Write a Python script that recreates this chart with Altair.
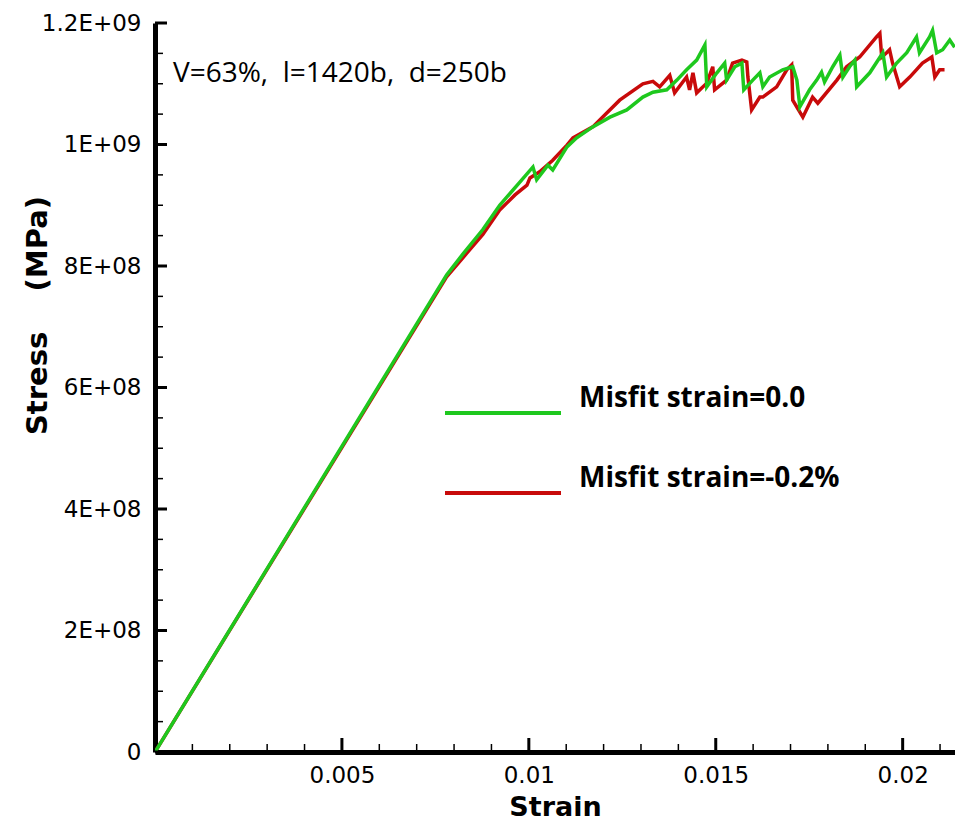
import json
import altair as alt
import pandas as pd

# ---------------- data ----------------
series_names = ["Misfit strain=0.0", "Misfit strain=-0.2%"]
series_colors = ["#1ec81e", "#c80a0a"]

green_strain = [0.0, 0.0078, 0.00824, 0.00877, 0.00922, 0.00976, 0.01011, 0.01021, 0.01051,
                0.01064, 0.01102, 0.01128, 0.01171, 0.01217, 0.01262, 0.01305, 0.01332, 0.01369, 0.01396,
                0.01422, 0.01449, 0.01471, 0.01476, 0.01503, 0.01524, 0.01529, 0.01551, 0.01570, 0.01575,
                0.01599, 0.01618, 0.01626, 0.01644, 0.01679, 0.01706, 0.01717, 0.01725, 0.01751, 0.01770,
                0.01783, 0.01791, 0.01813, 0.01832, 0.01840, 0.01858, 0.01872, 0.01877, 0.01912, 0.01947,
                0.01957, 0.01984, 0.02011, 0.02037, 0.02045, 0.02072, 0.02080, 0.02091, 0.02107, 0.02126,
                0.02139]
green_stress = [0.0, 7.85e8, 8.20e8, 8.60e8, 9.00e8, 9.38e8, 9.63e8, 9.42e8, 9.66e8,
                9.58e8, 9.96e8, 1.011e9, 1.029e9, 1.045e9, 1.057e9, 1.078e9, 1.086e9, 1.090e9, 1.106e9,
                1.123e9, 1.139e9, 1.164e9, 1.095e9, 1.118e9, 1.134e9, 1.106e9, 1.128e9, 1.134e9, 1.090e9,
                1.106e9, 1.118e9, 1.095e9, 1.111e9, 1.123e9, 1.128e9, 1.106e9, 1.062e9, 1.090e9, 1.106e9,
                1.119e9, 1.103e9, 1.128e9, 1.147e9, 1.111e9, 1.128e9, 1.139e9, 1.095e9, 1.118e9, 1.151e9,
                1.111e9, 1.134e9, 1.151e9, 1.177e9, 1.151e9, 1.177e9, 1.188e9, 1.151e9, 1.156e9, 1.172e9,
                1.160e9]

red_strain = [0.0, 0.0078, 0.00824, 0.00877, 0.00922, 0.00963, 0.00995, 0.01003, 0.01029,
              0.01064, 0.01102, 0.01118, 0.01171, 0.01243, 0.01305, 0.01332, 0.01350, 0.01377, 0.01390,
              0.01422, 0.01430, 0.01439, 0.01449, 0.01476, 0.01492, 0.01497, 0.01529, 0.01545, 0.01570,
              0.01583, 0.01586, 0.01596, 0.01618, 0.01626, 0.01663, 0.01690, 0.01703, 0.01706, 0.01733,
              0.01759, 0.01773, 0.01824, 0.01850, 0.01885, 0.01930, 0.01939, 0.01944, 0.01957, 0.01965,
              0.01973, 0.01992, 0.02019, 0.02053, 0.02078, 0.02086, 0.02099, 0.02112]
red_stress = [0.0, 7.82e8, 8.14e8, 8.52e8, 8.92e8, 9.17e8, 9.33e8, 9.45e8, 9.55e8,
              9.74e8, 9.99e8, 1.011e9, 1.029e9, 1.073e9, 1.100e9, 1.104e9, 1.095e9, 1.114e9, 1.085e9,
              1.111e9, 1.090e9, 1.118e9, 1.085e9, 1.101e9, 1.128e9, 1.090e9, 1.106e9, 1.134e9, 1.139e9,
              1.136e9, 1.111e9, 1.057e9, 1.078e9, 1.078e9, 1.095e9, 1.123e9, 1.131e9, 1.073e9, 1.045e9,
              1.078e9, 1.068e9, 1.106e9, 1.128e9, 1.144e9, 1.177e9, 1.183e9, 1.144e9, 1.151e9, 1.156e9,
              1.134e9, 1.095e9, 1.111e9, 1.134e9, 1.144e9, 1.111e9, 1.123e9, 1.123e9]

x_major = [0.005, 0.01, 0.015, 0.02]
x_major_labels = ["0.005", "0.01", "0.015", "0.02"]
x_minor = [0.001, 0.002, 0.003, 0.004, 0.006, 0.007, 0.008, 0.009, 0.011, 0.012, 0.013, 0.014,
           0.016, 0.017, 0.018, 0.019, 0.021]
y_major = [0, 2e8, 4e8, 6e8, 8e8, 1e9, 1.2e9]
y_major_labels = ["0", "2E+08", "4E+08", "6E+08", "8E+08", "1E+09", "1.2E+09"]
y_minor = [5e7, 1e8, 1.5e8, 2.5e8, 3e8, 3.5e8, 4.5e8, 5e8, 5.5e8, 6.5e8, 7e8, 7.5e8,
           8.5e8, 9e8, 9.5e8, 1.05e9, 1.1e9, 1.15e9]
x_domain = [0, 0.0214]
y_domain = [0, 1.2e9]
annotation = "V=63%,\u00a0 l=1420b,\u00a0 d=250b"
x_title = "Strain"
y_title = "Stress\u00a0\u00a0\u00a0\u00a0(MPa)"

# ---------------- build ----------------
W, H = 800, 729

rows = []
for i, (s, v) in enumerate(zip(red_strain, red_stress)):
    rows.append({"strain": s, "stress": v, "series": series_names[1], "order": i})
for i, (s, v) in enumerate(zip(green_strain, green_stress)):
    rows.append({"strain": s, "stress": v, "series": series_names[0], "order": i})
df = pd.DataFrame(rows)

xscale = alt.Scale(domain=x_domain, nice=False, zero=False)
yscale = alt.Scale(domain=y_domain, nice=False)

x_label_expr = "datum.value < 0.004 ? '' : " + json.dumps(x_major_labels) + "[round(datum.value/0.005) - 1]"
y_label_expr = json.dumps(y_major_labels) + "[round(datum.value/200000000)]"

lines = alt.Chart(df).mark_line(strokeWidth=3.5, clip=True).encode(
    x=alt.X("strain:Q", scale=xscale, title=x_title,
            axis=alt.Axis(values=[0] + x_major, labelExpr=x_label_expr, ticks=False, grid=False,
                          domainColor="black", domainWidth=5, labelFont="DejaVu Sans",
                          labelFontSize=23, labelColor="black", labelBaseline="alphabetic",
                          labelPadding=30, labelFlush=False,
                          titleFont="DejaVu Sans", titleFontSize=27, titleFontWeight="bold",
                          titleColor="black", titleBaseline="alphabetic", titleY=63,
                          titlePadding=0)),
    y=alt.Y("stress:Q", scale=yscale, title=y_title,
            axis=alt.Axis(values=y_major, labelExpr=y_label_expr, ticks=False, grid=False,
                          domainColor="black", domainWidth=5, labelFont="DejaVu Sans",
                          labelFontSize=23, labelColor="black", labelPadding=14,
                          labelBaseline="middle", labelFlush=False,
                          titleFont="DejaVu Sans", titleFontSize=29, titleFontWeight="bold",
                          titleColor="black", titleAngle=270, titleAlign="center",
                          titleBaseline="alphabetic", titleX=-109, titleY=292)),
    color=alt.Color("series:N", scale=alt.Scale(domain=series_names, range=series_colors),
                    legend=alt.Legend(orient="none", legendX=288, legendY=370, title=None,
                                      symbolType="stroke", symbolSize=116 * 116,
                                      symbolStrokeWidth=4, labelFont="Open Sans",
                                      labelFontWeight="bold", labelFontSize=28,
                                      labelColor="black", labelOffset=16,
                                      labelBaseline="bottom", clipHeight=40, rowPadding=32,
                                      padding=0, labelLimit=600)),
    order=alt.Order("order:Q"),
)

xmaj = alt.Chart(pd.DataFrame({"strain": x_major})).mark_rule(color="black", strokeWidth=3).encode(
    x=alt.X("strain:Q", scale=xscale), y=alt.value(H), y2=alt.value(H - 14))
xmin = alt.Chart(pd.DataFrame({"strain": x_minor})).mark_rule(color="black", strokeWidth=1.5).encode(
    x=alt.X("strain:Q", scale=xscale), y=alt.value(H), y2=alt.value(H - 8))
ymaj = alt.Chart(pd.DataFrame({"stress": y_major})).mark_rule(color="black", strokeWidth=3).encode(
    y=alt.Y("stress:Q", scale=yscale), x=alt.value(0), x2=alt.value(12))
ymin = alt.Chart(pd.DataFrame({"stress": y_minor})).mark_rule(color="black", strokeWidth=1.5).encode(
    y=alt.Y("stress:Q", scale=yscale), x=alt.value(0), x2=alt.value(8))

note = alt.Chart(pd.DataFrame({"t": [annotation]})).mark_text(
    align="left", baseline="alphabetic", font="Open Sans", fontSize=28, color="black"
).encode(text="t:N", x=alt.value(18), y=alt.value(59))

chart = alt.layer(lines, xmin, xmaj, ymin, ymaj, note).properties(
    width=W, height=H,
    autosize=alt.AutoSizeParams(type="none"),
    padding={"left": 155, "top": 23, "right": 0, "bottom": 72},
    background="white",
).configure_view(stroke=None)

chart.save("out.html", embed_options={"renderer": "svg", "actions": False})
